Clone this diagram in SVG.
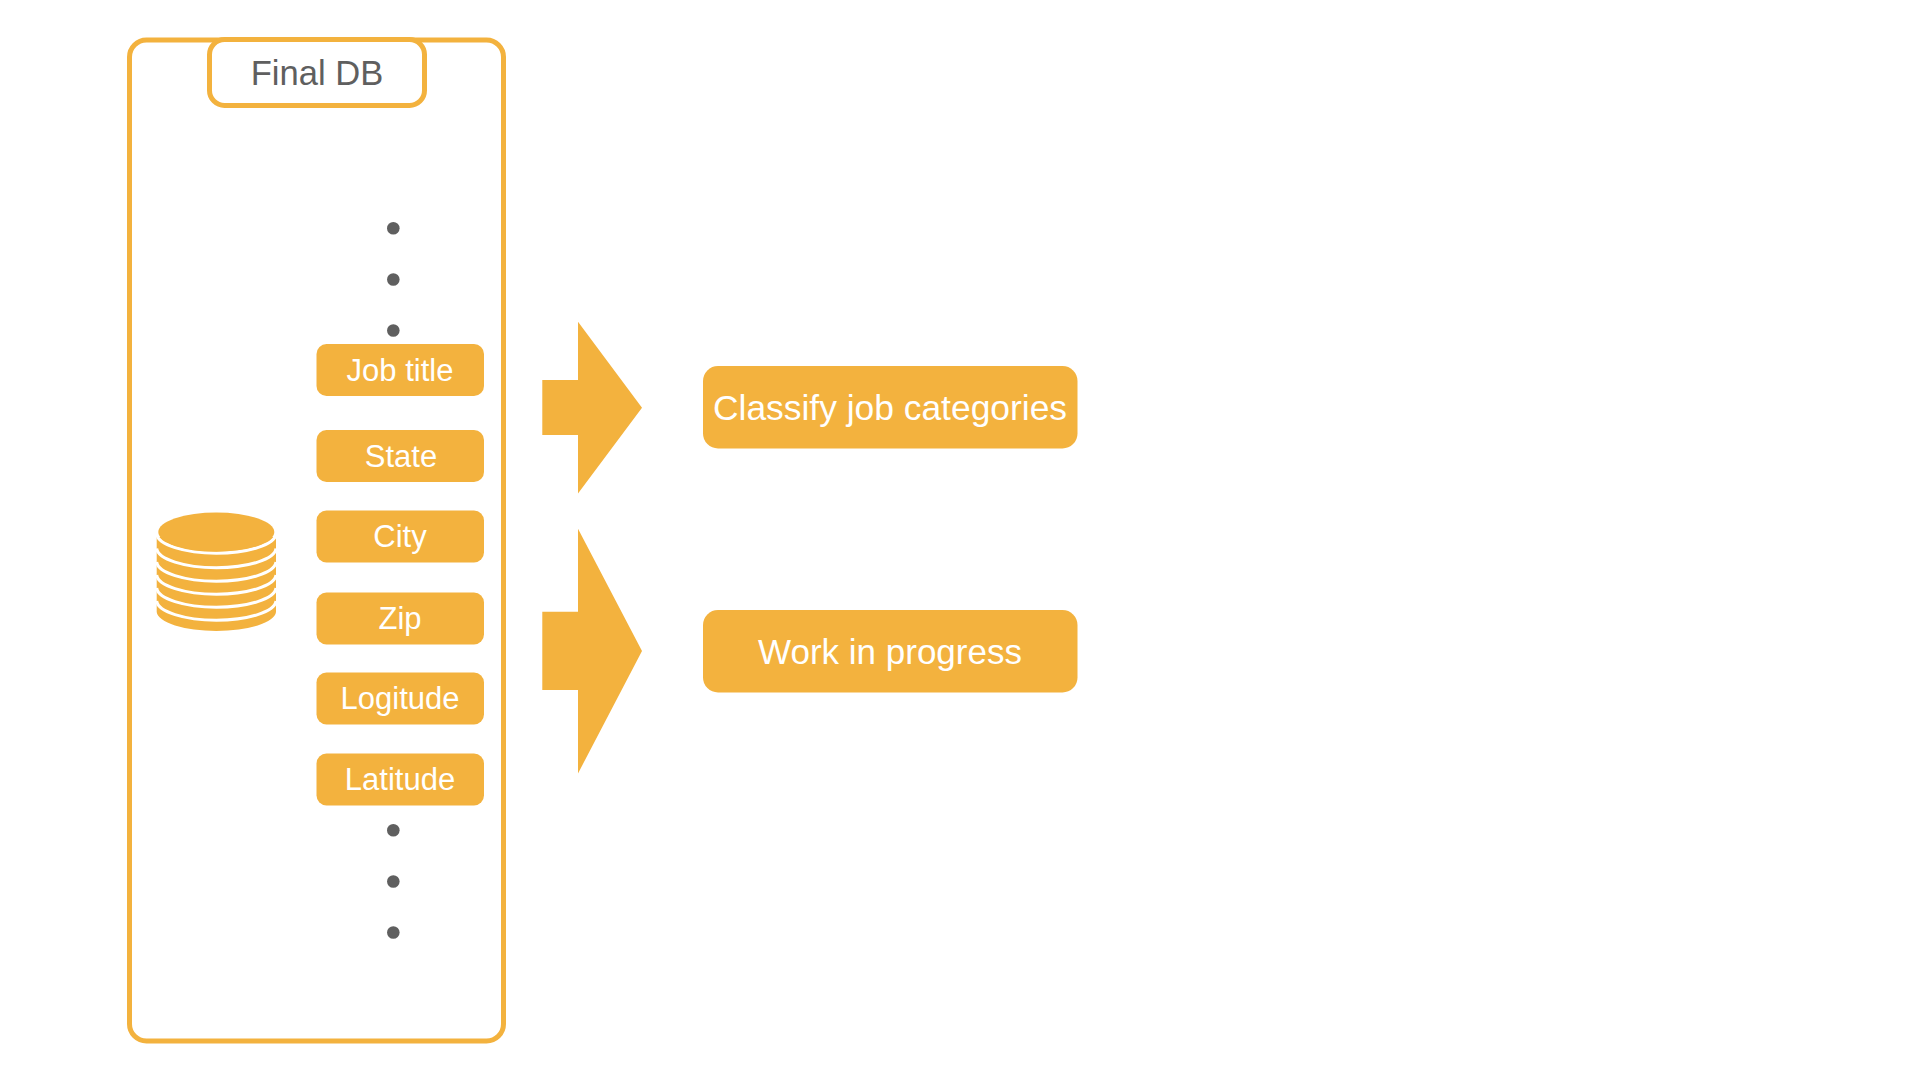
<svg xmlns="http://www.w3.org/2000/svg" width="1920" height="1080" viewBox="0 0 1920 1080">
<style>
text{font-family:"Liberation Sans",Arial,sans-serif;text-anchor:middle}
.o{fill:#F3B23E}
.frame{fill:#fff;stroke:#F3B23E;stroke-width:5}
.lbl{fill:#fff;font-size:31px}
.big{fill:#fff;font-size:35px}
.title{fill:#5F5F5F;font-size:34.6px}
.dot{fill:#5F5F5F}
.arc{fill:none;stroke:#fff;stroke-width:3}
</style>
<rect width="1920" height="1080" fill="#fff"/>
<g id="final-db">
<rect class="frame" x="129.5" y="40" width="374" height="1001" rx="17"/>
<rect class="frame" x="209.5" y="39.5" width="215" height="66" rx="15"/>
<text class="title" x="317" y="85">Final DB</text>
</g>
<g id="database">
<path class="o" d="M156.7 537V612A59.7 19.7 0 0 0 276 612V537Z"/>
<path class="arc" d="M156.7 534A59.7 20 0 0 0 276 534"/>
<path class="arc" d="M156.7 548.5A59.7 20 0 0 0 276 548.5"/>
<path class="arc" d="M156.7 562A59.7 20 0 0 0 276 562"/>
<path class="arc" d="M156.7 575A59.7 20 0 0 0 276 575"/>
<path class="arc" d="M156.7 588A59.7 20 0 0 0 276 588"/>
<path class="arc" d="M156.7 601A59.7 20 0 0 0 276 601"/>
<ellipse class="o" cx="216.3" cy="532" rx="58" ry="19.5"/>
</g>
<g id="dots-top"><circle class="dot" cx="393.3" cy="228.3" r="6.3"/><circle class="dot" cx="393.3" cy="279.5" r="6.3"/><circle class="dot" cx="393.3" cy="330.5" r="6.3"/></g>
<g id="dots-bottom"><circle class="dot" cx="393.3" cy="830.3" r="6.3"/><circle class="dot" cx="393.3" cy="881.5" r="6.3"/><circle class="dot" cx="393.3" cy="932.5" r="6.3"/></g>
<g id="job-title"><rect class="o" x="316.5" y="344" width="167.5" height="52" rx="10"/><text class="lbl" x="400" y="381">Job title</text></g>
<g id="state"><rect class="o" x="316.5" y="430" width="167.5" height="52" rx="10"/><text class="lbl" x="401" y="467">State</text></g>
<g id="city"><rect class="o" x="316.5" y="510.5" width="167.5" height="52" rx="10"/><text class="lbl" x="400" y="547">City</text></g>
<g id="zip"><rect class="o" x="316.5" y="592.5" width="167.5" height="52" rx="10"/><text class="lbl" x="400" y="629">Zip</text></g>
<g id="logitude"><rect class="o" x="316.5" y="672.5" width="167.5" height="52" rx="10"/><text class="lbl" x="400" y="709">Logitude</text></g>
<g id="latitude"><rect class="o" x="316.5" y="753.5" width="167.5" height="52" rx="10"/><text class="lbl" x="400" y="790">Latitude</text></g>
<g id="connectors">
<polygon class="o" points="542.3,380 578,380 578,321.7 642,407.7 578,493.5 578,435 542.3,435"/>
<polygon class="o" points="542.3,611.7 578,611.7 578,528.7 642,651 578,773.5 578,690 542.3,690"/>
</g>
<g id="classify"><rect class="o" x="703" y="366" width="374.5" height="82.5" rx="15"/><text class="big" style="font-size:35.4px" x="890" y="420">Classify job categories</text></g>
<g id="wip"><rect class="o" x="703" y="610" width="374.5" height="82.5" rx="15"/><text class="big" x="890" y="664">Work in progress</text></g>
</svg>
